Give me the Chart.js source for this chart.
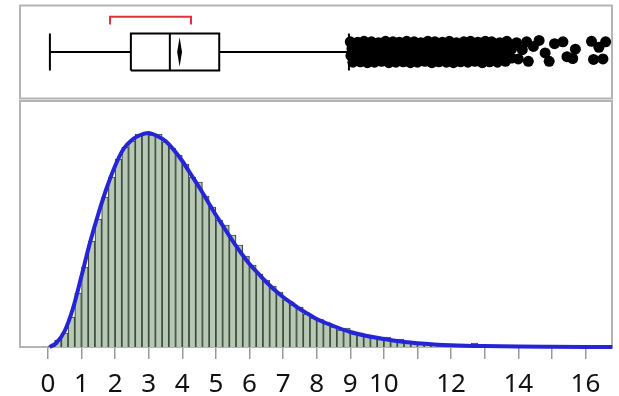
<!DOCTYPE html>
<html>
<head>
<meta charset="utf-8">
<script src="https://cdn.jsdelivr.net/npm/chart.js@4.4.0/dist/chart.umd.min.js"></script>
<style>
  html, body { margin: 0; padding: 0; background: #fff; }
  #wrap { position: relative; width: 619px; height: 396px; }
  canvas { position: absolute; left: 0; top: 0; }
</style>
</head>
<body>
<div id="wrap">
  <canvas id="hist" width="619" height="396"></canvas>
  <canvas id="box" width="619" height="104"></canvas>
</div>
<script>
// shared x range (data units)
const xMin = -0.83;
const xMax = 16.79;

// axis ticks
const tickValues = [0, 1, 2, 3, 4, 5, 6, 7, 8, 9, 10, 11, 12, 13, 14, 15, 16];
const tickLabels = ['0', '1', '2', '3', '4', '5', '6', '7', '8', '9', '10', '', '12', '', '14', '', '16'];

// histogram: bin centres (width 0.2) and density heights
const binCenters = [
  0.1, 0.3, 0.5, 0.7, 0.9, 1.1, 1.3, 1.5, 1.7, 1.9,
  2.1, 2.3, 2.5, 2.7, 2.9, 3.1, 3.3, 3.5, 3.7, 3.9,
  4.1, 4.3, 4.5, 4.7, 4.9, 5.1, 5.3, 5.5, 5.7, 5.9,
  6.1, 6.3, 6.5, 6.7, 6.9, 7.1, 7.3, 7.5, 7.7, 7.9,
  8.1, 8.3, 8.5, 8.7, 8.9, 9.1, 9.3, 9.5, 9.7, 9.9,
  10.1, 10.3, 10.5, 10.7, 10.9, 11.1, 11.3, 11.5, 11.7, 11.9,
  12.1, 12.3, 12.5, 12.7, 12.9, 13.1, 13.3, 13.5, 13.7, 13.9,
  14.1, 14.3, 14.5, 14.7, 14.9, 15.1, 15.3, 15.5, 15.7, 15.9,
  16.1, 16.3, 16.5, 16.7
];
const binHeights = [
  0.001, 0.007, 0.014, 0.030, 0.054, 0.080, 0.106, 0.128, 0.150, 0.170,
  0.188, 0.200, 0.206, 0.213, 0.213, 0.212, 0.213, 0.205, 0.199, 0.192,
  0.183, 0.170, 0.165, 0.151, 0.140, 0.127, 0.122, 0.112, 0.102, 0.091,
  0.082, 0.073, 0.067, 0.061, 0.055, 0.047, 0.042, 0.040, 0.033, 0.029,
  0.028, 0.025, 0.020, 0.017, 0.019, 0.014, 0.014, 0.011, 0.009, 0.008,
  0.010, 0.007, 0.008, 0.005, 0.004, 0.0035, 0.003, 0.0025, 0.002, 0.0018,
  0.0015, 0.0013, 0.001, 0.004, 0.0008, 0.0006, 0.0005, 0.0004, 0.0004, 0.0003,
  0.0003, 0.0002, 0.0002, 0.0002, 0.0001, 0.0001, 0.0001, 0.0001, 0.0001, 0.0001,
  0.0001, 0.0001, 0.0001, 0.0001
];

// fitted density curve
const curveX = [
  0.05, 0.25, 0.5, 0.75, 1.0, 1.25, 1.5, 1.75, 2.0, 2.25, 2.5, 2.75, 3.0,
  3.25, 3.5, 3.75, 4.0, 4.25, 4.5, 4.75, 5.0, 5.25, 5.5, 5.75, 6.0, 6.25,
  6.5, 6.75, 7.0, 7.25, 7.5, 7.75, 8.0, 8.5, 9.0, 9.5, 10.0, 10.5, 11.0,
  11.5, 12.0, 13.0, 14.0, 15.0, 16.0, 16.8
];
const curveY = [
  0, 0.004, 0.016, 0.039, 0.071, 0.104, 0.133, 0.159, 0.181, 0.198, 0.207, 0.212, 0.214,
  0.211, 0.206, 0.197, 0.186, 0.173, 0.160, 0.146, 0.132, 0.119, 0.106, 0.094, 0.083, 0.074,
  0.065, 0.057, 0.050, 0.044, 0.038, 0.033, 0.028, 0.021, 0.015, 0.011, 0.008, 0.0055, 0.0038,
  0.0026, 0.0018, 0.0009, 0.0004, 0.0002, 0.0001, 0.0001
];

// box plot summary
const lowerWhisker = 0.06;
const q1 = 2.47;
const median = 3.63;
const q3 = 5.10;
const upperWhisker = 8.96;
const mean = 3.92;
const meanHalfWidth = 0.05;
const shortestHalf = [1.85, 4.26];

// outliers: [value, vertical jitter]
const outliers = [
  [9.00, 0.22], [9.22, 0.21], [9.41, 0.23], [9.63, 0.22], [9.84, 0.20], [10.05, 0.23], [10.27, 0.22], [10.46, 0.21],
  [10.68, 0.23], [10.90, 0.22], [11.10, 0.20], [11.31, 0.23], [11.52, 0.22], [11.74, 0.21], [11.95, 0.23], [12.16, 0.20],
  [12.38, 0.22], [12.58, 0.23], [12.80, 0.21], [13.02, 0.23], [13.21, 0.22], [13.45, 0.20], [13.66, 0.23],
  [9.11, 0.14], [9.32, 0.15], [9.53, 0.13], [9.74, 0.15], [9.95, 0.14], [10.16, 0.16], [10.37, 0.14], [10.58, 0.13],
  [10.79, 0.15], [11.00, 0.14], [11.21, 0.16], [11.42, 0.13], [11.63, 0.15], [11.84, 0.14], [12.05, 0.15], [12.26, 0.13],
  [12.47, 0.16], [12.68, 0.14], [12.89, 0.15], [13.10, 0.13], [13.31, 0.15], [13.52, 0.14], [13.73, 0.16],
  [9.05, 0.07], [9.27, 0.05], [9.48, 0.08], [9.70, 0.06], [9.90, 0.09], [10.12, 0.05], [10.33, 0.07], [10.55, 0.08],
  [10.76, 0.06], [10.97, 0.07], [11.18, 0.04], [11.40, 0.08], [11.61, 0.06], [11.82, 0.07], [12.03, 0.09], [12.25, 0.05],
  [12.46, 0.07], [12.67, 0.06], [12.88, 0.08], [13.10, 0.05], [13.31, 0.07], [13.55, 0.09], [13.80, 0.06],
  [9.02, -0.08], [9.20, -0.07], [9.42, -0.09], [9.64, -0.06], [9.85, -0.08], [10.06, -0.10], [10.28, -0.07], [10.49, -0.08],
  [10.71, -0.06], [10.92, -0.09], [11.13, -0.07], [11.35, -0.08], [11.56, -0.10], [11.77, -0.06], [11.99, -0.08], [12.20, -0.07],
  [12.42, -0.09], [12.63, -0.08], [12.84, -0.06], [13.05, -0.09], [13.27, -0.07], [13.50, -0.08], [13.72, -0.10],
  [9.13, -0.15], [9.34, -0.14], [9.55, -0.16], [9.76, -0.15], [9.97, -0.13], [10.18, -0.15], [10.39, -0.16], [10.60, -0.14],
  [10.81, -0.15], [11.02, -0.13], [11.23, -0.15], [11.44, -0.16], [11.65, -0.14], [11.86, -0.15], [12.07, -0.14], [12.28, -0.16],
  [12.49, -0.15], [12.70, -0.13], [12.91, -0.15], [13.12, -0.14], [13.33, -0.16], [13.54, -0.15], [13.80, -0.13],
  [9.08, -0.22], [9.30, -0.21], [9.51, -0.23], [9.72, -0.22], [9.93, -0.20], [10.15, -0.23], [10.36, -0.22], [10.58, -0.21],
  [10.79, -0.23], [11.00, -0.22], [11.22, -0.20], [11.43, -0.23], [11.64, -0.21], [11.86, -0.22], [12.07, -0.23], [12.28, -0.21],
  [12.50, -0.22], [12.71, -0.20], [12.93, -0.23], [13.15, -0.21], [13.38, -0.22], [13.62, -0.20],
  [13.95, 0.20], [14.00, -0.15], [14.12, 0.05], [14.25, 0.22], [14.30, -0.20], [14.45, 0.12], [14.62, 0.25], [14.80, -0.02],
  [14.92, -0.20], [15.08, 0.18], [15.33, 0.22], [15.45, -0.10], [15.62, -0.14], [15.70, 0.06], [16.18, 0.23], [16.24, -0.16],
  [16.60, 0.22], [16.52, -0.15], [16.40, 0.10]
];

const FRAME = '#b4b4b4';
const framePlugin = {
  id: 'frame',
  beforeDatasetsDraw(chart) {
    const { ctx, chartArea: a } = chart;
    ctx.save();
    ctx.strokeStyle = FRAME;
    ctx.lineWidth = 2;
    ctx.strokeRect(a.left, a.top, a.right - a.left, a.bottom - a.top);
    ctx.restore();
  },
};

// ─── Histogram + density ───────────────────────────────────────────────
new Chart(document.getElementById('hist'), {
  type: 'bar',
  data: {
    datasets: [
      {
        type: 'line',
        data: curveX.map((x, i) => ({ x, y: curveY[i] })),
        borderColor: '#2525d6',
        borderWidth: 4,
        pointRadius: 0,
        cubicInterpolationMode: 'monotone',
        fill: false,
        clip: false,
        order: 0,
      },
      {
        type: 'bar',
        data: binCenters.map((x, i) => ({ x, y: binHeights[i] })),
        backgroundColor: '#b7c9b5',
        borderColor: '#3e4c3e',
        borderWidth: 1.2,
        barPercentage: 1,
        categoryPercentage: 1,
        order: 1,
      },
    ],
  },
  options: {
    responsive: false,
    animation: false,
    layout: { padding: { top: 101, left: 20, right: 7, bottom: 0 } },
    plugins: { legend: { display: false }, tooltip: { enabled: false } },
    scales: {
      x: {
        type: 'linear',
        min: xMin,
        max: xMax,
        offset: false,
        afterBuildTicks: s => { s.ticks = tickValues.map(v => ({ value: v })); },
        afterFit: s => { s.height = 49; },
        grid: {
          display: true, drawOnChartArea: false, drawTicks: true, tickLength: 12,
          color: '#9a9a9a', lineWidth: 1.5, offset: false,
        },
        border: { display: false },
        ticks: {
          autoSkip: false, maxRotation: 0, padding: 10, color: '#111',
          font: { family: 'Noto Sans', size: 26 },
          callback: (v, i) => tickLabels[i],
        },
      },
      y: { display: false, min: 0, max: 0.246 },
    },
  },
  plugins: [framePlugin],
});

// ─── Outlier box plot ─────────────────────────────────────────────────
const half = 0.40;
const seg = (pts, color, width) => ({
  data: pts.map(([x, y]) => ({ x, y })),
  showLine: true, borderColor: color, borderWidth: width, pointRadius: 0, fill: false,
});

new Chart(document.getElementById('box'), {
  type: 'scatter',
  data: {
    datasets: [
      seg([[lowerWhisker, 0], [q1, 0]], '#000', 2),
      seg([[q3, 0], [upperWhisker, 0]], '#000', 2),
      seg([[lowerWhisker, -half], [lowerWhisker, half]], '#000', 2),
      seg([[upperWhisker, -half], [upperWhisker, half]], '#000', 2),
      seg([[q1, -half], [q3, -half], [q3, half], [q1, half], [q1, -half]], '#000', 2),
      seg([[median, -half], [median, half]], '#000', 2),
      Object.assign(seg([[mean - meanHalfWidth, 0], [mean, 0.22], [mean + meanHalfWidth, 0], [mean, -0.22], [mean - meanHalfWidth, 0]], '#000', 1.5),
        { fill: 'shape', backgroundColor: '#000' }),
      seg([[shortestHalf[0], 0.59], [shortestHalf[0], 0.76], [shortestHalf[1], 0.76], [shortestHalf[1], 0.59]], '#e0313c', 2),
      {
        data: outliers.map(([x, y]) => ({ x, y })),
        pointRadius: 5.5, pointBackgroundColor: '#000', pointBorderWidth: 0, showLine: false,
      },
    ],
  },
  options: {
    responsive: false,
    animation: false,
    layout: { padding: { top: 4, left: 20, right: 7, bottom: 3 } },
    plugins: { legend: { display: false }, tooltip: { enabled: false } },
    scales: {
      x: { type: 'linear', display: false, min: xMin, max: xMax },
      y: { type: 'linear', display: false, min: -1, max: 1 },
    },
  },
  plugins: [framePlugin],
});
</script>
</body>
</html>
